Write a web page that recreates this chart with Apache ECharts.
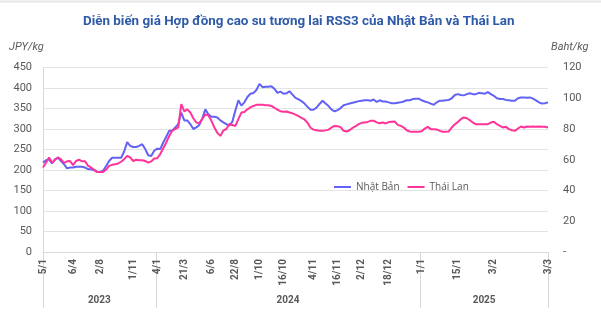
<!DOCTYPE html>
<html>
<head>
<meta charset="utf-8">
<script src="https://cdn.jsdelivr.net/npm/echarts@6/dist/echarts.min.js"></script>
<style>
  html, body { margin: 0; padding: 0; background: #ffffff; }
  #chart { width: 601px; height: 326px; }
</style>
</head>
<body>
<div id="chart"></div>
<script>
// Labelled session dates (d/m/yyyy) and how many sessions each one opens
const sessionMarks = [
  ['5/1/2023', 10], ['6/4/2023', 9], ['2/8/2023', 11], ['1/11/2023', 8],
  ['4/1/2024', 9], ['21/3/2024', 9], ['6/6/2024', 8], ['22/8/2024', 8],
  ['1/10/2024', 8], ['16/10/2024', 10], ['4/11/2024', 8], ['16/11/2024', 8],
  ['2/12/2024', 9], ['18/12/2024', 11], ['1/1/2025', 12], ['15/1/2025', 12],
  ['3/2/2025', 18], ['3/3/2025', 1]
];

// RSS3 futures, Japan (JPY/kg)
const japanJPY = [
  218, 224, 226, 216, 226, 230, 222, 214, 204, 206,
  206, 208, 208, 208, 206, 202, 202, 200, 196, 195,
  198, 210, 222, 230, 230, 230, 230, 245, 268, 259,
  256, 256, 259, 263, 251, 236, 234, 247, 252, 251,
  267, 281, 296, 296, 304, 312, 340, 321, 321, 312,
  300, 304, 310, 326, 348, 336, 330, 330, 328, 321,
  316, 312, 308, 318, 345, 370, 357, 365, 378, 386,
  388, 395, 410, 402, 403, 403, 404, 398, 388, 391,
  386, 387, 392, 384, 376, 372, 368, 362, 354, 347,
  347, 352, 361, 369, 362, 356, 347, 343, 346, 351,
  358, 360, 362, 364, 366, 368, 369, 370, 370, 369,
  372, 366, 370, 367, 367, 365, 363, 363, 364, 365,
  367, 370, 370, 373, 374, 374, 370, 367, 365, 362,
  359, 365, 369, 369, 370, 371, 375, 383, 385, 383,
  382, 385, 387, 385, 385, 388, 387, 386, 390, 385,
  381, 375, 373, 373, 371, 370, 369, 369, 375, 377,
  377, 376, 377, 374, 370, 365, 362, 363, 365
];

// RSS3 futures, Thailand (Baht/kg)
const thailandTHB = [
  55, 58, 61.5, 58, 60, 61.5, 60.3, 58, 59, 59.2,
  56.5, 59.2, 60, 59, 59, 56, 55, 53.3, 52.1, 52,
  52, 53.6, 56, 56.7, 57, 57.6, 58.7, 60.4, 62.5, 61.5,
  59.2, 60, 59.7, 59.7, 59.2, 58.1, 58.9, 60.8, 61, 63.7,
  67.5, 71.2, 75.5, 78.8, 80, 81, 96.2, 91.5, 92.8, 90.7,
  87, 84.2, 83.8, 86.5, 89.5, 89, 85.5, 81, 77.5, 75.5,
  79, 80, 83.2, 82.6, 82, 86.4, 90.7, 91, 92.8, 94,
  95, 95.7, 95.7, 95.7, 95.5, 95.5, 95, 93.8, 92.5, 91.6,
  91.2, 91.4, 90.7, 90.2, 89.3, 88.4, 87.3, 86.2, 84, 80.8,
  79.6, 79.2, 78.8, 78.8, 79.1, 79.6, 81, 82, 81.8, 81.2,
  78.8, 78.4, 79.2, 80.8, 81.8, 83.2, 84, 84.3, 84.6, 85.3,
  85.4, 84.3, 83.8, 84.2, 83.6, 84.5, 84.7, 84.9, 82.7, 82,
  81, 79.2, 78.4, 78.2, 78.2, 78.2, 78.6, 80.3, 81.4, 79.9,
  79.9, 79.7, 78.8, 78.2, 78.2, 78.4, 81, 83.1, 84.5, 86.4,
  87.5, 87, 85.7, 84.2, 83.1, 83.1, 83.1, 83.1, 83.1, 84.2,
  84.7, 83.1, 82, 81, 81.4, 79.9, 79.2, 78.8, 80.3, 81.6,
  81, 81.6, 81.4, 81.6, 81.4, 81.6, 81.4, 81.4, 81
];

const seriesNames = ['Nhật Bản', 'Thái Lan'];
const seriesColors = ['#6262f7', '#ff3399'];

// One category per session; unlabelled sessions carry a suffix after '+'
const categories = [];
sessionMarks.forEach(([date, count]) => {
  categories.push(date);
  for (let k = 1; k < count; k++) categories.push(date + '+' + k);
});
const yearOf = c => c.split('+')[0].split('/')[2];
const isMarked = c => c.indexOf('+') < 0;

const chart = echarts.init(document.getElementById('chart'), null, { renderer: 'canvas' });
const font = 'Roboto, "Liberation Sans", sans-serif';
const grey = '#595959';
// Flat bar used as the legend key for both lines
const lineKey = 'path://M0,0H17V2H0Z';

chart.setOption({
  animation: false,
  backgroundColor: '#ffffff',
  textStyle: { fontFamily: font },
  title: {
    text: 'Diễn biến giá Hợp đồng cao su tương lai RSS3 của Nhật Bản và Thái Lan',
    left: 78, top: 10,
    textStyle: { color: '#2f5aa8', fontSize: 13.4, fontWeight: 'bold', fontFamily: font }
  },
  legend: {
    data: seriesNames,
    icon: lineKey,
    left: 329, top: 177,
    itemWidth: 17, itemHeight: 2, itemGap: 8,
    textStyle: { color: grey, fontSize: 10, fontFamily: '"Open Sans", sans-serif' }
  },
  grid: { left: 43, right: 53, top: 67.5, bottom: 74, containLabel: false },
  xAxis: {
    type: 'category',
    data: categories,
    boundaryGap: false,
    axisLine: { lineStyle: { color: '#d9d9d9', width: 1 } },
    axisTick: { show: false },
    splitLine: { show: false },
    axisLabel: {
      interval: (i, v) => isMarked(v),
      rotate: 90,
      margin: 7,
      color: grey,
      fontSize: 10,
      fontWeight: 'bold',
      formatter: v => v.split('/').slice(0, 2).join('/')
    }
  },
  yAxis: [
    {
      type: 'value', min: 0, max: 450, interval: 50,
      axisLine: { show: true, lineStyle: { color: '#d9d9d9' } },
      axisTick: { show: false },
      splitLine: { lineStyle: { color: '#e3e3e3' } },
      axisLabel: { color: grey, fontSize: 11, margin: 11 }
    },
    {
      type: 'value', min: 0, max: 120, interval: 20,
      axisLine: { show: false },
      axisTick: { show: false },
      splitLine: { show: false },
      axisLabel: { color: grey, fontSize: 11, margin: 15, formatter: v => (v === 0 ? '-' : String(v)) }
    }
  ],
  series: [
    {
      name: seriesNames[0], type: 'line', yAxisIndex: 0, data: japanJPY,
      symbol: 'none', color: seriesColors[0], legendIcon: lineKey,
      lineStyle: { width: 2, color: seriesColors[0] }
    },
    {
      name: seriesNames[1], type: 'line', yAxisIndex: 1, data: thailandTHB,
      symbol: 'none', color: seriesColors[1], legendIcon: lineKey,
      lineStyle: { width: 2, color: seriesColors[1] }
    }
  ]
});

// Year band under the date labels: separators between years and centred year names
function drawYearBand() {
  const px = i => chart.convertToPixel({ xAxisIndex: 0 }, i);
  const baseY = chart.convertToPixel({ yAxisIndex: 0 }, 0);
  const last = categories.length - 1;
  const edges = [px(0)];
  const years = [yearOf(categories[0])];
  for (let i = 1; i <= last; i++) {
    const y = yearOf(categories[i]);
    if (y !== years[years.length - 1]) {
      edges.push((px(i - 1) + px(i)) / 2);
      years.push(y);
    }
  }
  edges.push(px(last));
  const elements = [
    { type: 'line', shape: { x1: 0, y1: 1.5, x2: 601, y2: 1.5 }, style: { stroke: '#e6e6e6', lineWidth: 2 }, silent: true },
    { type: 'text', left: 9, top: 42, style: { text: 'JPY/kg', fill: grey, fontSize: 11, fontStyle: 'italic', fontFamily: font } },
    { type: 'text', left: 551, top: 42, style: { text: 'Baht/kg', fill: grey, fontSize: 11, fontStyle: 'italic', fontFamily: font } }
  ];
  edges.forEach(x => {
    const xr = Math.round(x) + 0.5;
    elements.push({ type: 'line', shape: { x1: xr, y1: baseY, x2: xr, y2: baseY + 56 }, style: { stroke: '#d9d9d9', lineWidth: 1 }, silent: true });
  });
  years.forEach((y, k) => {
    elements.push({
      type: 'text', x: (edges[k] + edges[k + 1]) / 2, y: baseY + 48,
      style: { text: y, fill: grey, fontSize: 10, fontWeight: 'bold', fontFamily: font, align: 'center', verticalAlign: 'middle' }
    });
  });
  chart.setOption({ graphic: elements });
}
drawYearBand();
</script>
</body>
</html>
